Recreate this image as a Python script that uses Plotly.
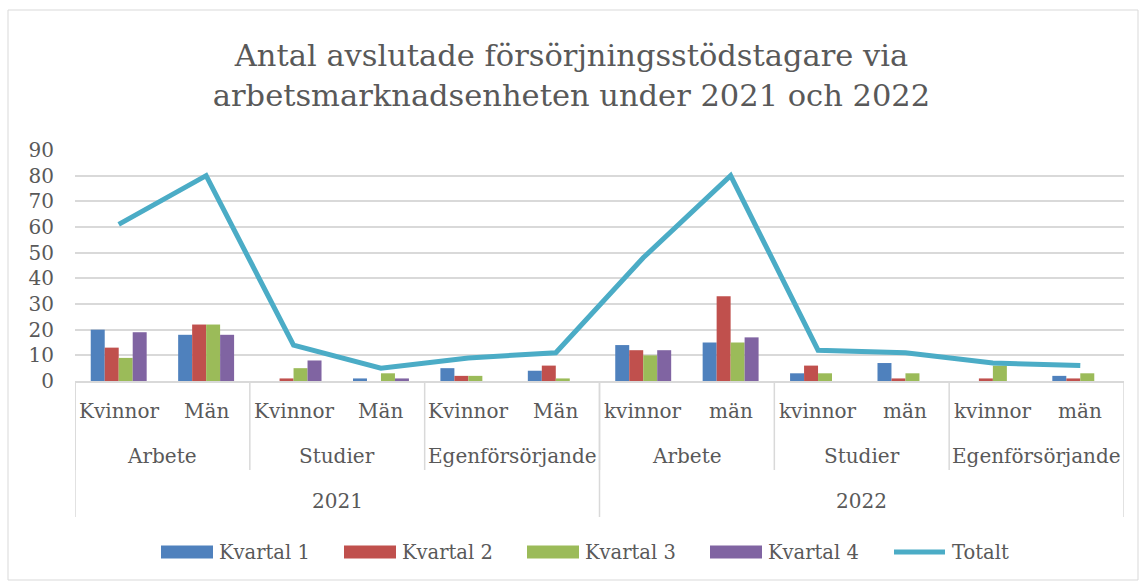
import plotly.graph_objects as go

years = ["2021", "2022"]
types = [["Arbete", "Studier", "Egenförsörjande"], ["Arbete", "Studier", "Egenförsörjande"]]
genders = [["Kvinnor", "Män"], ["kvinnor", "män"]]

series_names = ["Kvartal 1", "Kvartal 2", "Kvartal 3", "Kvartal 4"]
kvartal1 = [20, 18, 0, 1, 5, 4, 14, 15, 3, 7, 0, 2]
kvartal2 = [13, 22, 1, 0, 2, 6, 12, 33, 6, 1, 1, 1]
kvartal3 = [9, 22, 5, 3, 2, 1, 10, 15, 3, 3, 6, 3]
kvartal4 = [19, 18, 8, 1, 0, 0, 12, 17, 0, 0, 0, 0]
totalt = [61, 80, 14, 5, 9, 11, 48, 80, 12, 11, 7, 6]
line_name = "Totalt"

colors = ["#4f81bd", "#c0504d", "#9bbb59", "#8064a2"]
line_color = "#4bacc6"
text_color = "#595959"
grid_color = "#d9d9d9"
FONT = "DejaVu Serif"

cat_labels = []
for yi, y in enumerate(years):
    for t in types[yi]:
        for g in genders[yi]:
            cat_labels.append(g)
xs = list(range(len(cat_labels)))

fig = go.Figure()
for name, vals, c in zip(series_names, [kvartal1, kvartal2, kvartal3, kvartal4], colors):
    fig.add_trace(go.Bar(x=xs, y=vals, name=name, marker=dict(color=c, line=dict(width=0)),
                         showlegend=False))
fig.add_trace(go.Scatter(x=xs, y=totalt, name=line_name, mode="lines",
                         line=dict(color=line_color, width=5), showlegend=False))

L, R, T, B = 75, 1124, 150, 381
W, H = 1143, 583
plot_w = float(R - L)
plot_h = float(B - T)

def pxx(px):
    return (px - L) / plot_w

def pyy(py):
    return (B - py) / plot_h

annotations = []
shapes = []
lc = "#d9d9d9"
lab_font = dict(size=20, color=text_color, family=FONT)
for i, lab in enumerate(cat_labels):
    annotations.append(dict(x=i, y=pyy(411), xref="x", yref="paper", text=lab,
                            showarrow=False, font=lab_font, yanchor="middle"))
idx = 0
for yi, y in enumerate(years):
    start_year = idx
    for t in types[yi]:
        n = len(genders[yi])
        center = idx + (n - 1) / 2
        annotations.append(dict(x=center, y=pyy(456), xref="x", yref="paper", text=t,
                                showarrow=False, font=lab_font, yanchor="middle"))
        shapes.append(dict(type="line", xref="x", yref="paper", x0=idx - 0.5, x1=idx - 0.5,
                           y0=0, y1=pyy(470), line=dict(color=lc, width=1.5)))
        idx += n
    ycenter = start_year + (idx - start_year - 1) / 2
    annotations.append(dict(x=ycenter, y=pyy(501), xref="x", yref="paper", text=y,
                            showarrow=False, font=lab_font, yanchor="middle"))
    shapes.append(dict(type="line", xref="x", yref="paper", x0=start_year - 0.5, x1=start_year - 0.5,
                       y0=0, y1=pyy(517), line=dict(color=lc, width=1.5)))
shapes.append(dict(type="line", xref="x", yref="paper", x0=idx - 0.5, x1=idx - 0.5,
                   y0=0, y1=pyy(517), line=dict(color=lc, width=1.5)))

# chart border
shapes.append(dict(type="rect", xref="paper", yref="paper",
                   x0=pxx(8), x1=pxx(1138), y0=pyy(580), y1=pyy(10),
                   line=dict(color="#d9d9d9", width=1)))

# custom legend
leg_y = 552
swatch_x = [161, 344, 527, 710]
for sx, name, c in zip(swatch_x, series_names, colors):
    shapes.append(dict(type="rect", xref="paper", yref="paper",
                       x0=pxx(sx), x1=pxx(sx + 52), y0=pyy(leg_y + 6.5), y1=pyy(leg_y - 6.5),
                       fillcolor=c, line=dict(width=0)))
    annotations.append(dict(x=pxx(sx + 56), y=pyy(leg_y), xref="paper", yref="paper",
                            text=name, showarrow=False, xanchor="left", yanchor="middle",
                            font=dict(size=19.5, color=text_color, family=FONT)))
shapes.append(dict(type="line", xref="paper", yref="paper",
                   x0=pxx(894), x1=pxx(945), y0=pyy(leg_y), y1=pyy(leg_y),
                   line=dict(color=line_color, width=5)))
annotations.append(dict(x=pxx(950), y=pyy(leg_y), xref="paper", yref="paper",
                        text=line_name, showarrow=False, xanchor="left", yanchor="middle",
                        font=dict(size=19.5, color=text_color, family=FONT)))

fig.update_layout(
    width=W, height=H,
    margin=dict(l=L, r=W - R, t=T, b=H - B),
    paper_bgcolor="white", plot_bgcolor="white",
    barmode="group", bargap=0.36, bargroupgap=0,
    font=dict(family=FONT, color=text_color, size=20),
    title=dict(text="Antal avslutade försörjningsstödstagare via<br>arbetsmarknadsenheten under 2021 och 2022",
               x=0.5, xanchor="center", y=1 - 66.0 / H, yanchor="middle",
               font=dict(size=30.5, color=text_color, family=FONT)),
    xaxis=dict(range=[-0.5, len(xs) - 0.5], showticklabels=False, showgrid=False, zeroline=False,
               showline=True, linecolor=lc, linewidth=1.5, ticks=""),
    yaxis=dict(range=[0, 90], dtick=10, showgrid=True, gridcolor=grid_color, gridwidth=1.5,
               zeroline=False, showline=False, ticks="", ticklabelstandoff=20,
               tickfont=dict(size=20, color=text_color, family=FONT)),
    annotations=annotations,
    shapes=shapes,
    showlegend=False,
)

fig.write_html("out.html", config={"displayModeBar": False},
               post_script="document.body.style.margin='0';")
